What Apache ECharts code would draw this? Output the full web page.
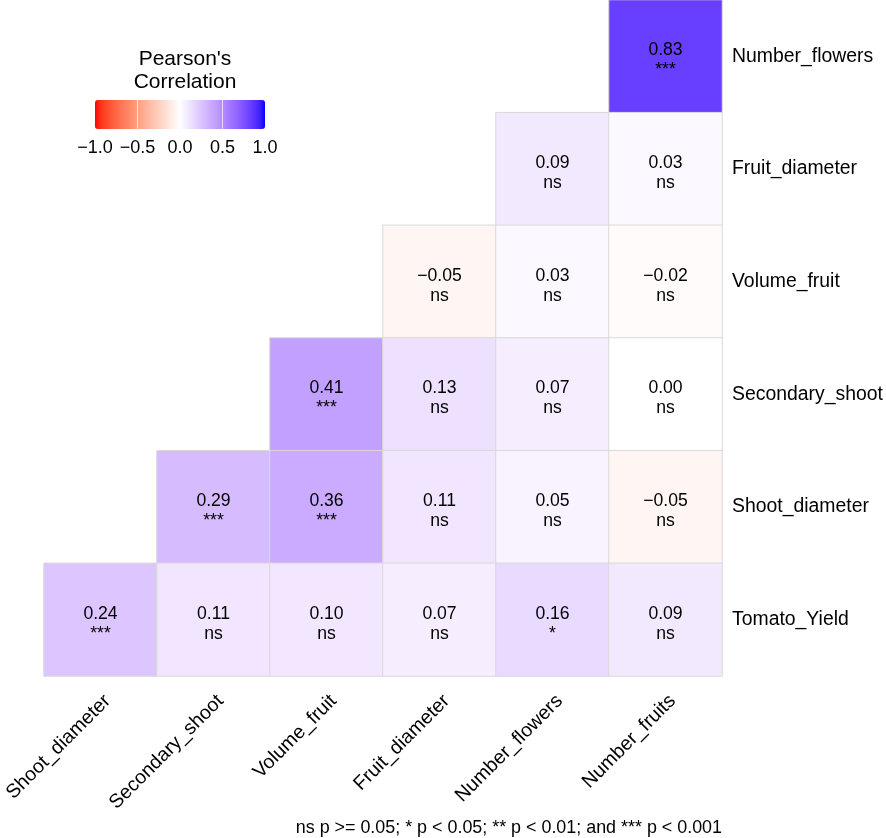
<!DOCTYPE html>
<html>
<head>
<meta charset="utf-8">
<script src="https://cdn.jsdelivr.net/npm/echarts@6/dist/echarts.min.js"></script>
<style>
  html, body { margin: 0; padding: 0; background: #fff; }
  #main { width: 886px; height: 838px; }
</style>
</head>
<body>
<div id="main"></div>
<script>
// variables on the x axis (left to right)
var xCats = ['Shoot_diameter', 'Secondary_shoot', 'Volume_fruit', 'Fruit_diameter', 'Number_flowers', 'Number_fruits'];
// variables on the y axis (top to bottom)
var yCats = ['Number_flowers', 'Fruit_diameter', 'Volume_fruit', 'Secondary_shoot', 'Shoot_diameter', 'Tomato_Yield'];

// correlation per row (same order as yCats), null = empty cell
var corr = [
    [null, null, null, null, null, 0.83],
    [null, null, null, null, 0.09, 0.03],
    [null, null, null, -0.05, 0.03, -0.02],
    [null, null, 0.41, 0.13, 0.07, 0.00],
    [null, 0.29, 0.36, 0.11, 0.05, -0.05],
    [0.24, 0.11, 0.10, 0.07, 0.16, 0.09]
];
var signif = [
    [null, null, null, null, null, '***'],
    [null, null, null, null, 'ns', 'ns'],
    [null, null, null, 'ns', 'ns', 'ns'],
    [null, null, '***', 'ns', 'ns', 'ns'],
    [null, '***', '***', 'ns', 'ns', 'ns'],
    ['***', 'ns', 'ns', 'ns', '*', 'ns']
];

var FONT = '"Liberation Sans", Arial, Helvetica, sans-serif';

// ggplot style gradient (red - white - blue mixed in Lab space)
function labToHex(L, a, b) {
    var fy = (L + 16) / 116, fx = fy + a / 500, fz = fy - b / 200;
    function f(t) { return t * t * t > 0.008856 ? t * t * t : (116 * t - 16) / 903.3; }
    var X = f(fx) * 0.95047, Y = (L > 8 ? fy * fy * fy : L / 903.3), Z = f(fz) * 1.08883;
    var rgb = [
        3.2406 * X - 1.5372 * Y - 0.4986 * Z,
        -0.9689 * X + 1.8758 * Y + 0.0415 * Z,
        0.0557 * X - 0.2040 * Y + 1.0570 * Z
    ].map(function (c) {
        c = c <= 0.0031308 ? 12.92 * c : 1.055 * Math.pow(c, 1 / 2.4) - 0.055;
        c = Math.round(Math.max(0, Math.min(1, c)) * 255);
        return ('0' + c.toString(16)).slice(-2);
    });
    return '#' + rgb.join('');
}
var labRed = [53.24, 80.09, 67.20], labWhite = [100, 0, 0], labBlue = [32.30, 79.19, -107.86];
var ramp = [];
for (var i = 0; i <= 40; i++) {
    var v = -1 + i / 20;
    var end = v < 0 ? labRed : labBlue, t = Math.abs(v);
    ramp.push(labToHex(
        labWhite[0] + (end[0] - labWhite[0]) * t,
        labWhite[1] + (end[1] - labWhite[1]) * t,
        labWhite[2] + (end[2] - labWhite[2]) * t
    ));
}

function fmt(v, d) {
    return v.toFixed(d).replace('-', '\u2212');
}

var cells = [];
corr.forEach(function (row, yi) {
    row.forEach(function (v, xi) {
        if (v !== null) cells.push([xi, yi, v, signif[yi][xi]]);
    });
});

var option = {
    backgroundColor: '#fff',
    animation: false,
    textStyle: { fontFamily: FONT },
    title: [{
        text: "Pearson's\nCorrelation",
        left: 180,
        textAlign: 'center',
        top: 43,
        textStyle: { fontSize: 21, fontWeight: 'normal', color: '#000', lineHeight: 23, fontFamily: FONT }
    }, {
        text: 'ns p >= 0.05; * p < 0.05; ** p < 0.01; and *** p < 0.001',
        right: 164,
        top: 819,
        padding: 0,
        textStyle: { fontSize: 17.9, fontWeight: 'normal', color: '#000', fontFamily: FONT }
    }],
    grid: [{
        left: 44, top: 0, width: 678, height: 676,
        outerBoundsMode: 'none', containLabel: false
    }, {
        left: 95, top: 100, width: 170, height: 29,
        outerBoundsMode: 'none', containLabel: false
    }],
    xAxis: [{
        type: 'category',
        data: xCats,
        gridIndex: 0,
        axisLine: { show: false },
        axisTick: { show: false },
        splitLine: { show: false },
        axisLabel: {
            interval: 0, rotate: 45, margin: 15,
            verticalAlign: 'top',
            fontSize: 19.6, color: '#000', fontFamily: FONT
        }
    }, {
        type: 'value',
        gridIndex: 1,
        min: -1, max: 1, interval: 0.5,
        z: 10,
        axisLine: { show: false },
        axisTick: { show: false },
        splitLine: { show: true, showMinLine: false, showMaxLine: false, lineStyle: { color: 'rgba(255,255,255,0.7)', width: 1 } },
        axisLabel: {
            margin: 10, fontSize: 18, color: '#000', fontFamily: FONT,
            formatter: function (v) { return fmt(v, 1); }
        }
    }],
    yAxis: [{
        type: 'category',
        data: yCats,
        inverse: true,
        position: 'right',
        gridIndex: 0,
        axisLine: { show: false },
        axisTick: { show: false },
        splitLine: { show: false },
        axisLabel: { margin: 10, fontSize: 19.4, color: '#000', fontFamily: FONT }
    }, {
        type: 'value',
        gridIndex: 1,
        show: false
    }],
    visualMap: {
        type: 'continuous',
        min: -1, max: 1,
        dimension: 2,
        seriesIndex: 0,
        orient: 'horizontal',
        left: 95, top: 100,
        padding: 0,
        itemWidth: 29,
        itemHeight: 170,
        text: null,
        showLabel: false,
        calculable: false,
        realtime: false,
        inRange: { color: ramp }
    },
    series: [{
        type: 'heatmap',
        xAxisIndex: 0,
        yAxisIndex: 0,
        data: cells,
        itemStyle: { borderColor: '#d9d9d9', borderWidth: 1 },
        label: {
            show: true,
            fontSize: 17.6,
            lineHeight: 20,
            offset: [0, 4],
            color: '#000',
            fontFamily: FONT,
            formatter: function (p) { return fmt(p.data[2], 2) + '\n' + p.data[3]; }
        },
        emphasis: { disabled: true }
    }]
};

var chart = echarts.init(document.getElementById('main'));
chart.setOption(option);
</script>
</body>
</html>
